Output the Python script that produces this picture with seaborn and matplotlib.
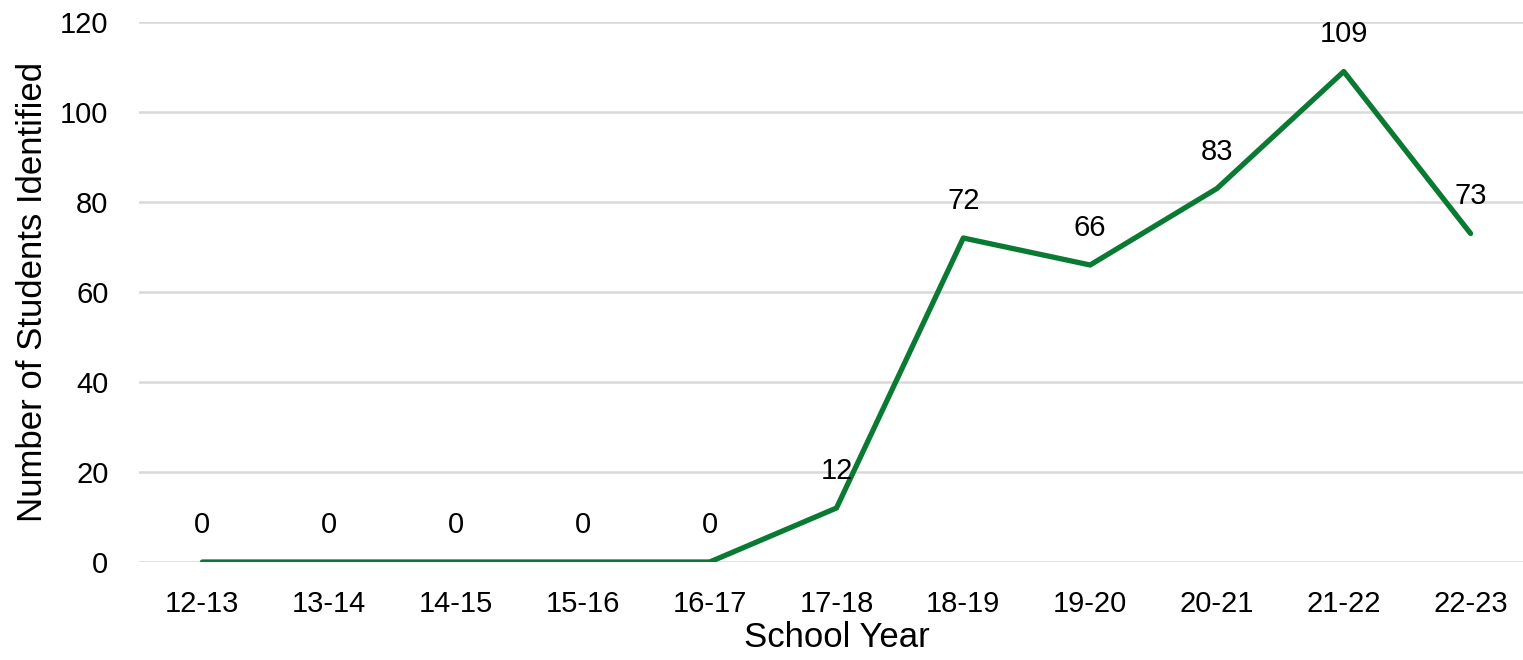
import matplotlib
matplotlib.use("Agg")
import matplotlib.pyplot as plt
import seaborn as sns
import pandas as pd

years = ["12-13", "13-14", "14-15", "15-16", "16-17", "17-18", "18-19", "19-20", "20-21", "21-22", "22-23"]
students = [0, 0, 0, 0, 0, 12, 72, 66, 83, 109, 73]

sns.set_theme(style="white")
plt.rcParams['font.family'] = ['Liberation Sans', 'DejaVu Sans']

df = pd.DataFrame({"year": years, "students": students})

fig = plt.figure(figsize=(15.23, 6.6), dpi=100)
W, H = 1523, 660
left_px, right_px = 139, 139 + 1395
top_px, bot_px = 22, 562
ax = fig.add_axes([left_px / W, 1 - bot_px / H, (right_px - left_px) / W, (bot_px - top_px) / H])

sns.lineplot(data=df, x="year", y="students", ax=ax, color="#0a7a33", linewidth=3.8, sort=False)

ax.set_xlim(-0.5, len(years) - 0.5)
ax.set_ylim(0, 120)
ax.set_yticks(range(0, 121, 20))
ax.yaxis.grid(True, color="#d9d9d9", linewidth=1.8)
ax.xaxis.grid(False)
ax.set_axisbelow(True)
for s in ax.spines.values():
    s.set_visible(False)
ax.tick_params(axis="both", length=0, labelsize=21, colors="black")
ax.tick_params(axis="x", pad=20)
ax.tick_params(axis="y", pad=22)
ax.set_xlabel("School Year", fontsize=25, color="black", labelpad=2)
ax.set_ylabel("Number of Students Identified", fontsize=25, color="black", labelpad=8)

for i, v in enumerate(students):
    ax.annotate(str(v), (i, v), xytext=(0, 37), textcoords="offset pixels",
                ha="center", va="center", fontsize=21, color="black")

fig.savefig("out.png", dpi=100)
